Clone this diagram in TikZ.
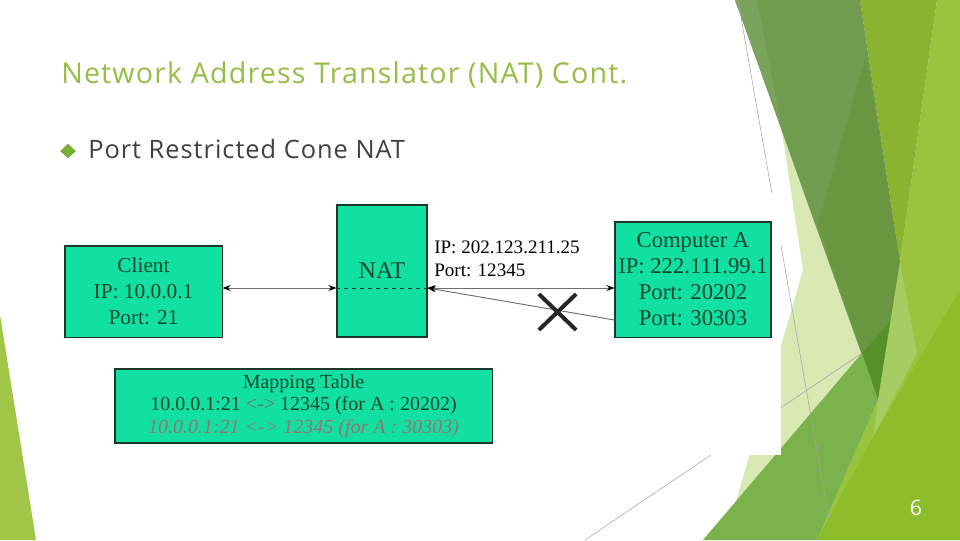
\documentclass[tikz,border=0pt]{standalone}
\usepackage{fontspec}
\setmainfont{Liberation Serif}
\newfontfamily\slidefont[LetterSpace=4]{Open Sans}
\usetikzlibrary{arrows.meta,shapes.geometric,shapes.misc}
\definecolor{Teal}{RGB}{18,224,162}
\definecolor{BoxEdge}{RGB}{30,55,45}
\definecolor{BoxText}{RGB}{15,72,45}
\definecolor{LinkGray}{RGB}{110,110,110}
\definecolor{Faded}{RGB}{150,115,115}
\definecolor{TitleGreen}{RGB}{150,190,70}
\definecolor{SubGray}{RGB}{64,64,64}
\definecolor{Bullet}{RGB}{120,175,55}
\definecolor{Sliver}{RGB}{161,197,71}
\definecolor{Pale}{RGB}{218,232,180}
\definecolor{Bright}{RGB}{152,196,62}
\definecolor{Lime}{RGB}{141,189,42}
\definecolor{Olive}{RGB}{136,180,48}
\definecolor{Moss}{RGB}{112,156,80}
\definecolor{MossLight}{RGB}{122,163,92}
\definecolor{MossDark}{RGB}{105,150,65}
\definecolor{Deep}{RGB}{85,145,40}
\definecolor{Fern}{RGB}{165,205,100}
\definecolor{Grass}{RGB}{122,178,76}
\definecolor{Hair}{RGB}{165,165,165}

\begin{document}
\begin{tikzpicture}[x=0.75pt,y=-0.75pt,
    box/.style={rectangle,draw=BoxEdge,fill=Teal,line width=0.8pt,text=BoxText,
                align=center,inner sep=0pt},
    arr/.style={<->,>={Stealth[length=6pt,width=4.5pt,color=black]},draw=LinkGray,line width=0.7pt},
    lbl/.style={font=\fontsize{14.3}{17.25}\selectfont,align=left,inner sep=0pt},
    slide/.style={font=\slidefont\fontsize{#1}{#1}\selectfont,inner sep=0pt}]

  \useasboundingbox (0,0) rectangle (960,540);
  \fill[white] (0,0) rectangle (960,540);

  % background facets
  \fill[Sliver] (0,315) -- (36,540) -- (0,540) -- cycle;
  \fill[Pale] (781,125) -- (803,270) -- (735,505) -- (862,353) -- cycle;
  \fill[Bright] (937,0) -- (960,0) -- (960,540) -- (817,540) -- (878,400) -- (900,262) -- cycle;
  \fill[Lime] (817,540) -- (873,437) -- (960,290) -- (960,540) -- cycle;
  \fill[Olive] (860,0) -- (937,0) -- (900,262) -- cycle;
  \fill[Moss] (735,0) -- (860,0) -- (900,262) -- (878,400) -- cycle;
  \fill[MossLight] (735,0) -- (757,0) -- (781,125) -- cycle;
  \fill[MossDark] (866,55) -- (900,262) -- (878,400) -- (818,225) -- cycle;
  \fill[Deep] (862,353) -- (890,322) -- (878,400) -- cycle;
  \fill[Fern] (900,262) -- (917,353) -- (873,437) -- (878,400) -- cycle;
  \fill[Grass] (703,540) -- (862,353) -- (878,400) -- (817,540) -- cycle;
  \draw[Hair,line width=0.4pt] (738,0) -- (830,525);
  \draw[Hair,line width=0.4pt] (585,540) -- (862,353);

  % pasted figure
  \fill[white] (58,193) rectangle (781,455);

  \node[slide=21.5,anchor=base west,text=TitleGreen] (title) at (61,83) {Network Address Translator (NAT) Cont.};
  \node[diamond,fill=Bullet,minimum width=12pt,minimum height=11pt,inner sep=0pt] (dot) at (68,151) {};
  \node[slide=19,anchor=base west,text=SubGray] (sub) at (88,158) {Port Restricted Cone NAT};

  \node[box,minimum width=117.8pt,minimum height=68.3pt,font=\fontsize{16}{19.5}\selectfont]
    (client) at (143.5,291.5) {Client\\IP: 10.0.0.1\\Port: 21};
  \node[box,minimum width=67.5pt,minimum height=99pt,font=\fontsize{18}{20}\selectfont]
    (nat) at (382,271) {NAT};
  \node[box,minimum width=117pt,minimum height=86.3pt,font=\fontsize{17}{19.5}\selectfont]
    (compA) at (693,279.5) {Computer A\\IP: 222.111.99.1\\Port: 20202\\Port: 30303};
  \node[box,minimum width=282.8pt,minimum height=55.5pt,font=\fontsize{15}{17}\selectfont]
    (map) at (303.5,406) {Mapping Table\\10.0.0.1:21 \textcolor{LinkGray}{<->} 12345 (for A : 20202)\\
    \textcolor{Faded}{\itshape 10.0.0.1:21 <-> 12345 (for A : 30303)}};

  \node[lbl,anchor=west] (natip) at (434,258.5) {IP: 202.123.211.25\\Port: 12345};

  \coordinate (lnk) at (0,288);
  \coordinate (lnkB) at (0,320);
  \draw[arr] (client.east |- lnk) -- (nat.west |- lnk);
  \draw[draw=BoxEdge,dashed,line width=0.6pt] (nat.west |- lnk) -- (nat.east |- lnk);
  \draw[arr] (nat.east |- lnk) -- (compA.west |- lnk);
  \draw[arr,<-] (nat.east |- lnk) -- (compA.west |- lnkB);
  \node[cross out,draw=black!85,line width=3pt,minimum width=25pt,minimum height=24pt,inner sep=0pt]
    (block) at (557.5,312) {};

  \node[slide=16,text=white] (pgno) at (916,508) {6};
\end{tikzpicture}
\end{document}
